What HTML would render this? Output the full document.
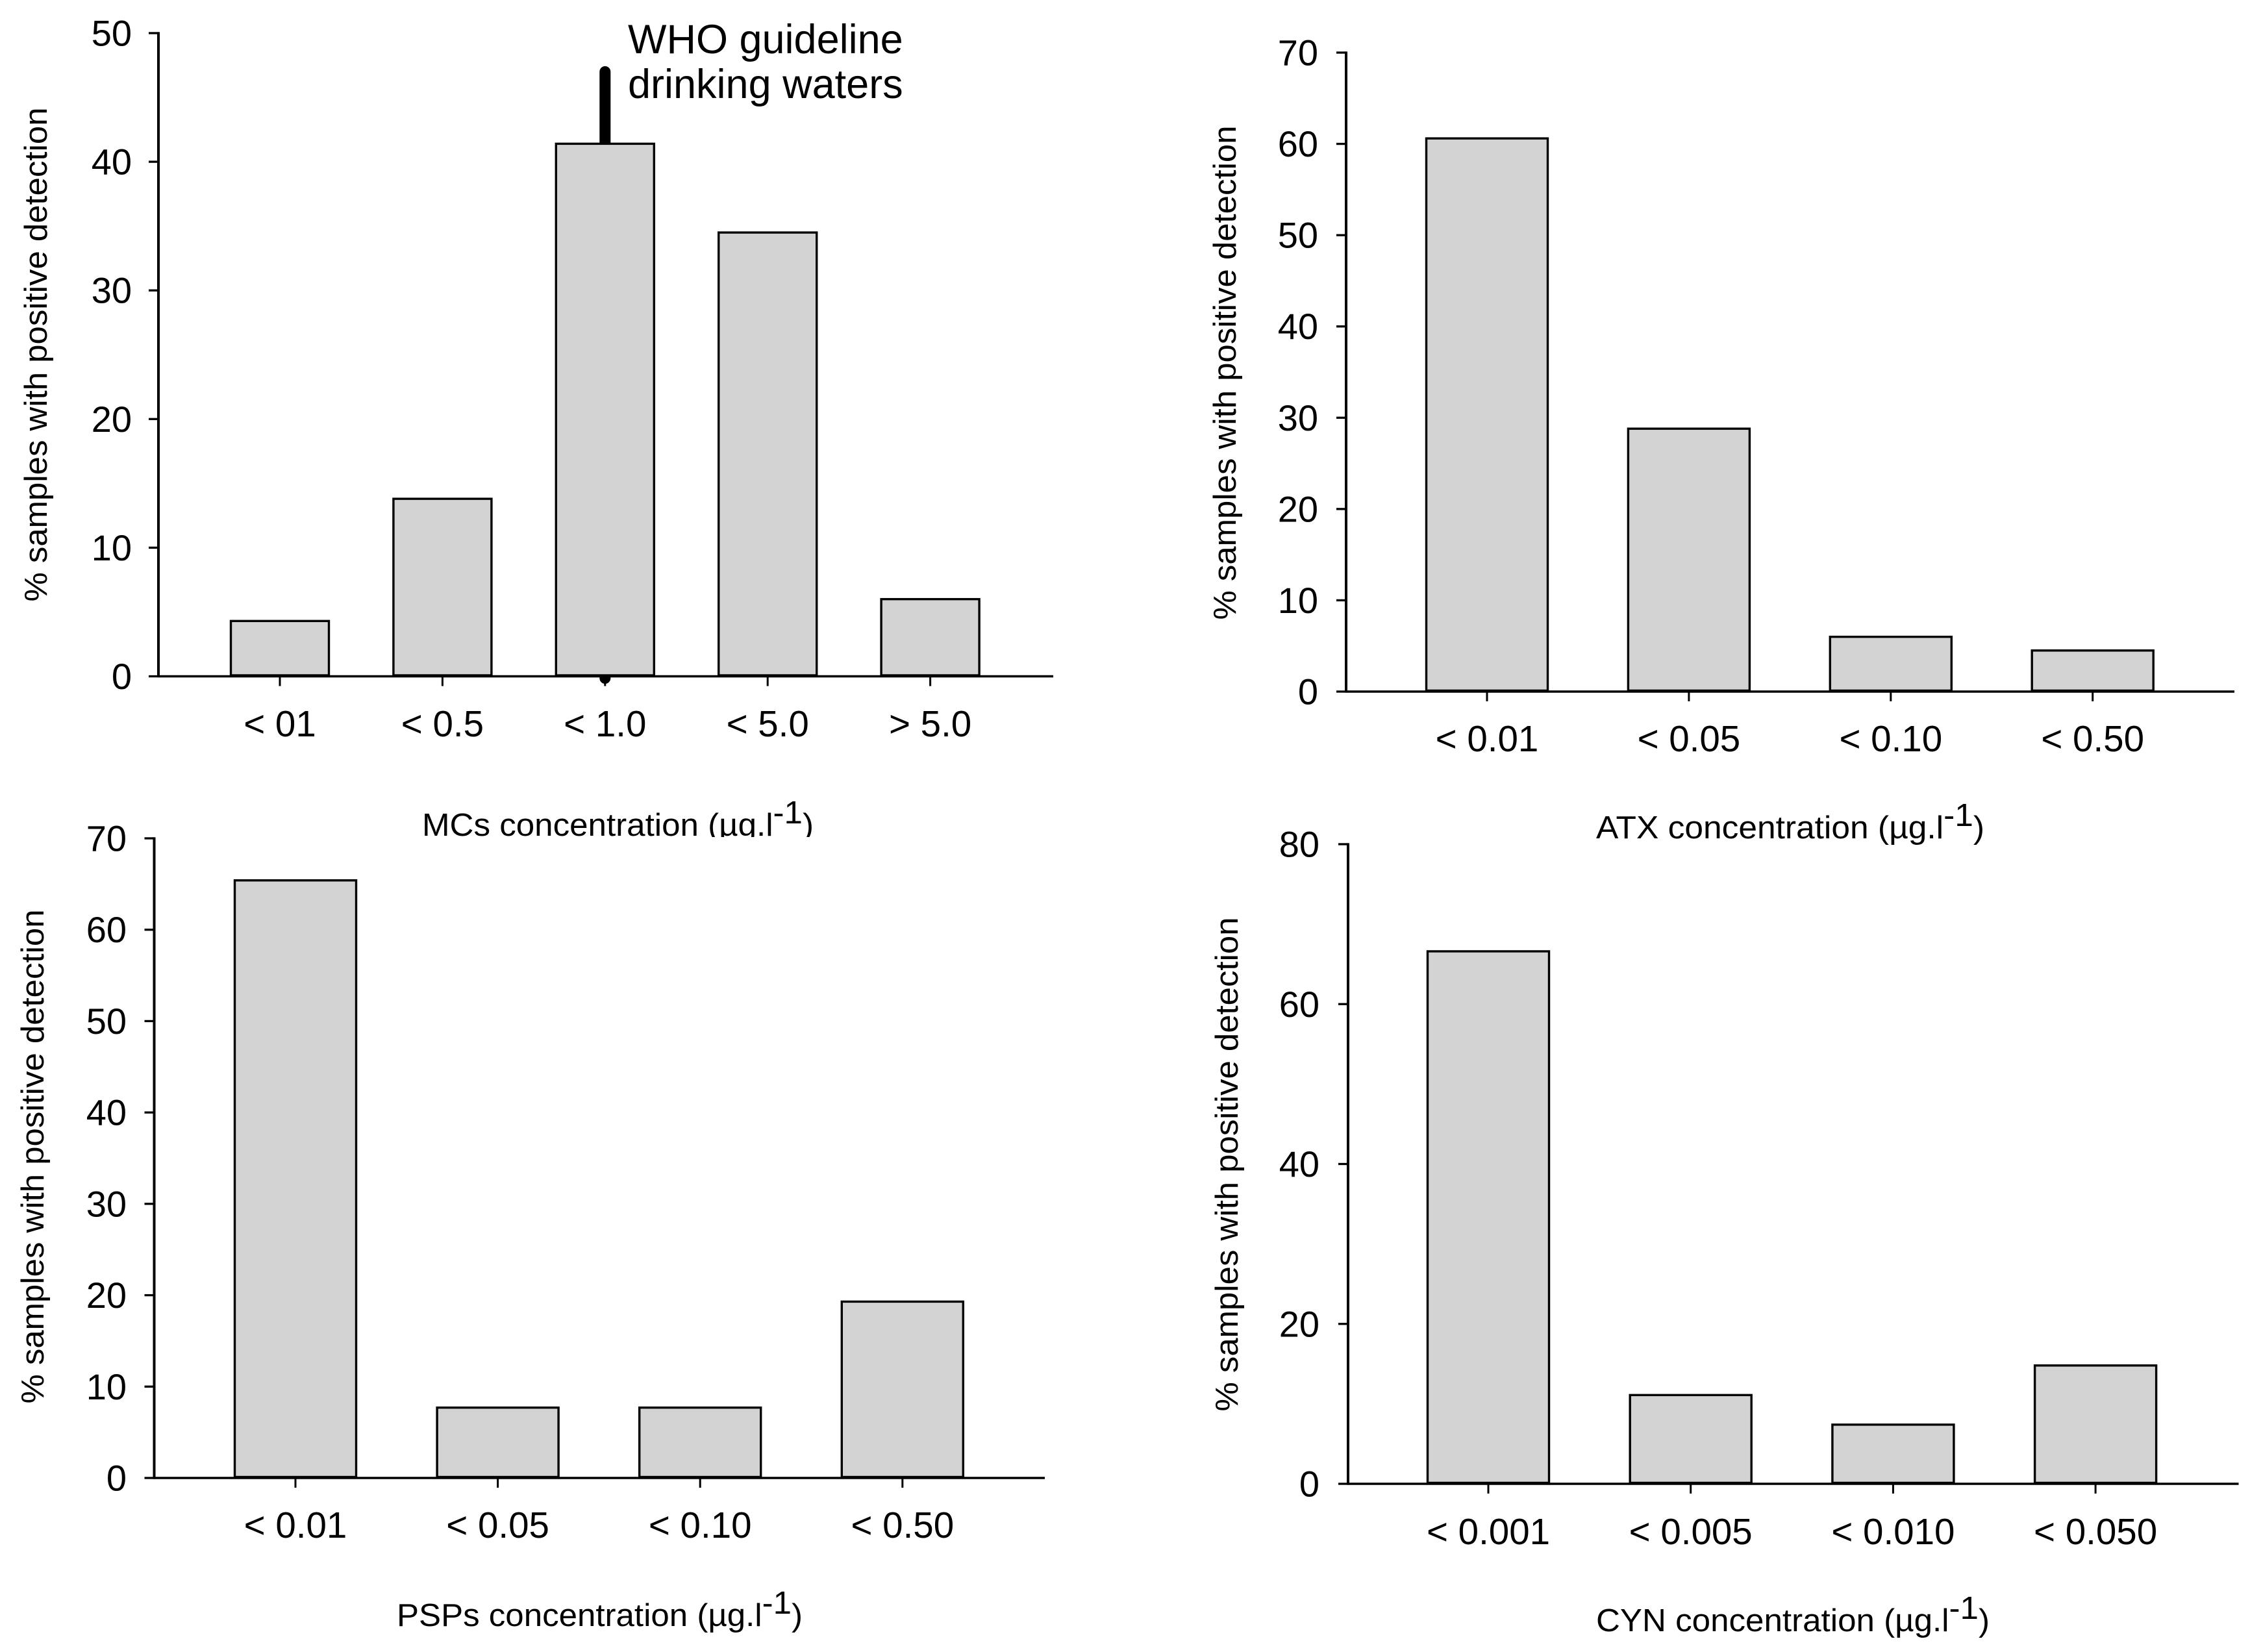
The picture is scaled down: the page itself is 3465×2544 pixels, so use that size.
<!DOCTYPE html>
<html lang="en">
<head>
<meta charset="utf-8">
<title>Cyanotoxin concentration histograms</title>
<style>
  html, body { margin: 0; padding: 0; background: #fff; }
  svg { display: block; }
  text { font-family: "Liberation Sans", Arial, sans-serif; fill: #000; }
  .yt { font-size: 49.5px; }
  .xt { font-size: 49.5px; }
  .who { font-size: 63px; }
</style>
</head>
<body>
<svg id="chart" xmlns="http://www.w3.org/2000/svg" width="3465" height="2544" viewBox="0 0 3465 2544">
  <defs>
    <clipPath id="mc-title-clip"><rect x="0" y="1200" width="1732" height="89"/></clipPath>
  </defs>
  <rect x="0" y="0" width="3465" height="2544" fill="#fff"/>

  <g id="panel-mc">
    <text class="yt" transform="translate(72 546) rotate(-90)" text-anchor="middle" textLength="761" lengthAdjust="spacingAndGlyphs">% samples with positive detection</text>
    <text class="xt" x="650" y="1287" clip-path="url(#mc-title-clip)" textLength="603" lengthAdjust="spacingAndGlyphs">MCs concentration (µg.l<tspan dy="-19">-1</tspan><tspan dy="19">)</tspan></text>
    <text class="who" x="967" y="82">WHO guideline</text>
    <text class="who" x="967" y="151">drinking waters</text>
  </g>
  <g id="panel-atx">
    <text class="yt" transform="translate(1903 574) rotate(-90)" text-anchor="middle" textLength="761" lengthAdjust="spacingAndGlyphs">% samples with positive detection</text>
    <text class="xt" x="2458" y="1291" textLength="598" lengthAdjust="spacingAndGlyphs">ATX concentration (µg.l<tspan dy="-19">-1</tspan><tspan dy="19">)</tspan></text>
  </g>
  <g id="panel-psp">
    <text class="yt" transform="translate(67 1781) rotate(-90)" text-anchor="middle" textLength="761" lengthAdjust="spacingAndGlyphs">% samples with positive detection</text>
    <text class="xt" x="611" y="2504" textLength="625" lengthAdjust="spacingAndGlyphs">PSPs concentration (µg.l<tspan dy="-19">-1</tspan><tspan dy="19">)</tspan></text>
  </g>
  <g id="panel-cyn">
    <text class="yt" transform="translate(1906 1793) rotate(-90)" text-anchor="middle" textLength="761" lengthAdjust="spacingAndGlyphs">% samples with positive detection</text>
    <text class="xt" x="2458" y="2512" textLength="606" lengthAdjust="spacingAndGlyphs">CYN concentration (µg.l<tspan dy="-19">-1</tspan><tspan dy="19">)</tspan></text>
  </g>
</svg>
<script>
// Chart data
const mcCategories = ["< 01", "< 0.5", "< 1.0", "< 5.0", "> 5.0"];
const mcValues = [4.3, 13.8, 41.4, 34.5, 6.0];
const mcTicks = [0, 10, 20, 30, 40, 50];

const atxCategories = ["< 0.01", "< 0.05", "< 0.10", "< 0.50"];
const atxValues = [60.6, 28.8, 6.0, 4.5];
const atxTicks = [0, 10, 20, 30, 40, 50, 60, 70];

const pspCategories = ["< 0.01", "< 0.05", "< 0.10", "< 0.50"];
const pspValues = [65.4, 7.7, 7.7, 19.3];
const pspTicks = [0, 10, 20, 30, 40, 50, 60, 70];

const cynCategories = ["< 0.001", "< 0.005", "< 0.010", "< 0.050"];
const cynValues = [66.6, 11.1, 7.4, 14.8];
const cynTicks = [0, 20, 40, 60, 80];

const whoLineRange = [0, 47];
const whoLineCategory = "< 1.0";

const NS = "http://www.w3.org/2000/svg";

function make(parent, tag, attrs) {
  const el = document.createElementNS(NS, tag);
  for (const k in attrs) el.setAttribute(k, attrs[k]);
  parent.appendChild(el);
  return el;
}

function drawPanel(p) {
  const root = document.getElementById(p.id);
  const g = make(root, "g", {});
  
  

  const yMax = p.ticks[p.ticks.length - 1];
  const yScale = v => p.y0 + (p.yTop - p.y0) * (v / yMax);
  const xScale = i => p.cx0 + p.step * i;

  // reference line is behind the bars
  if (p.refLine) {
    const i = p.categories.indexOf(p.refCategory);
    const line = make(g, "line", {
      x1: xScale(i), x2: xScale(i),
      y1: yScale(p.refLine[0]) + 3, y2: yScale(p.refLine[1]),
      stroke: "#000", "stroke-width": 17, "stroke-linecap": "round"
    });
    
    
  }

  // bars (bottom edge sits just above the axis line, thickening it)
  p.values.forEach((v, i) => {
    const top = yScale(v);
    const bottom = p.y0 - 1.5;
    const bar = make(g, "rect", {
      x: xScale(i) - p.barW / 2, y: top,
      width: p.barW, height: bottom - top,
      fill: "#d3d3d3", stroke: "#000", "stroke-width": 3.4
    });
    
    
  });

  // y axis line
  const yAxis = make(g, "line", {
    x1: p.axisX, x2: p.axisX, y1: p.yTop - 1.6, y2: p.y0 + 1.6,
    stroke: "#000", "stroke-width": 4
  });
  
  

  // x axis line
  const xAxis = make(g, "line", {
    x1: p.axisX, x2: p.axisEnd, y1: p.y0, y2: p.y0,
    stroke: "#000", "stroke-width": 3.4
  });
  
  

  // y ticks + labels
  p.ticks.forEach(t => {
    const y = yScale(t);
    const tick = make(g, "line", {
      x1: p.axisX - 15, x2: p.axisX, y1: y, y2: y,
      stroke: "#000", "stroke-width": 3.3
    });
    
    
    const label = make(g, "text", {
      x: p.yLabelRight, y: y + 19.5, "text-anchor": "end", "font-size": 56
    });
    
    
    label.textContent = t;
  });

  // x ticks + labels
  p.categories.forEach((c, i) => {
    const x = xScale(i);
    const tick = make(g, "line", {
      x1: x, x2: x, y1: p.y0, y2: p.y0 + 15,
      stroke: "#000", "stroke-width": 3
    });
    
    
    const label = make(g, "text", {
      x: x, y: p.xLabelY, "text-anchor": "middle", "font-size": 56.5
    });
    
    
    label.textContent = c;
  });
}

drawPanel({ id: "panel-mc", key: "mcs", categories: mcCategories, values: mcValues, ticks: mcTicks,
  refLine: whoLineRange, refCategory: whoLineCategory,
  axisX: 244, axisEnd: 1622, yTop: 51, y0: 1041.5, cx0: 431, step: 250.4, barW: 151,
  yLabelRight: 203, xLabelY: 1134 });

drawPanel({ id: "panel-atx", key: "atx", categories: atxCategories, values: atxValues, ticks: atxTicks,
  axisX: 2073, axisEnd: 3441, yTop: 81, y0: 1065, cx0: 2290, step: 310.9, barW: 187,
  yLabelRight: 2030, xLabelY: 1157 });

drawPanel({ id: "panel-psp", key: "psps", categories: pspCategories, values: pspValues, ticks: pspTicks,
  axisX: 237.5, axisEnd: 1609, yTop: 1291, y0: 2276, cx0: 455, step: 311.6, barW: 187,
  yLabelRight: 195, xLabelY: 2368 });

drawPanel({ id: "panel-cyn", key: "cyn", categories: cynCategories, values: cynValues, ticks: cynTicks,
  axisX: 2076, axisEnd: 3447.5, yTop: 1300, y0: 2285, cx0: 2292, step: 311.7, barW: 187,
  yLabelRight: 2032, xLabelY: 2378 });
</script>
</body>
</html>
